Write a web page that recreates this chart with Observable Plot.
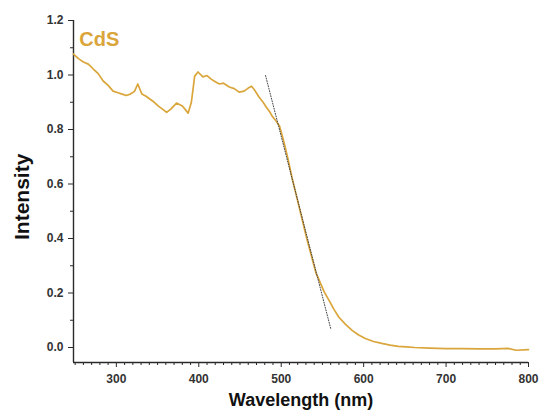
<!DOCTYPE html>
<html>
<head>
<meta charset="utf-8">
<script src="https://cdn.jsdelivr.net/npm/d3@7"></script>
<script src="https://cdn.jsdelivr.net/npm/@observablehq/plot@0.6"></script>
<style>
  html, body { margin: 0; padding: 0; background: #fff; }
  #chart svg { display: block; }
</style>
</head>
<body>
<div id="chart"></div>
<script>
// CdS absorption spectrum: wavelength (nm) and normalised intensity
const wavelength = [248,254,260,266,272,278,284,290,296,302,307,312,317,322,326,331,336,341,346,351,356,361,366,373,380,384,387,391,395,399,405,410,415,420,425,430,437,443,449,455,460,464,467,473,478,482,486,489,494,498,501,504,508,513,519,525,531,537,542,546,552,558,564,570,578,586,594,602,612,622,632,642,652,662,680,700,720,740,760,775,785,800];
const intensity = [1.077,1.06,1.048,1.04,1.022,1.005,0.978,0.962,0.941,0.935,0.93,0.925,0.93,0.94,0.967,0.93,0.922,0.911,0.9,0.886,0.875,0.863,0.875,0.897,0.886,0.872,0.86,0.9,0.996,1.011,0.993,0.998,0.985,0.975,0.967,0.97,0.956,0.95,0.937,0.941,0.952,0.959,0.948,0.919,0.9,0.882,0.865,0.849,0.83,0.812,0.78,0.745,0.695,0.625,0.55,0.475,0.4,0.332,0.275,0.247,0.205,0.173,0.14,0.111,0.085,0.063,0.046,0.033,0.022,0.015,0.009,0.004,0.002,0,-0.002,-0.004,-0.004,-0.005,-0.005,-0.003,-0.01,-0.008];

// Tangent line at the absorption edge (dotted)
const tangentX = [481, 560];
const tangentY = [0.998, 0.07];

// Axis ticks
const xTicks = [300, 400, 500, 600, 700, 800];
const xMinor = d3.range(250, 801, 10).filter(v => v % 100 !== 0);
const yTicks = [0, 0.2, 0.4, 0.6, 0.8, 1.0, 1.2];
const yMinor = [0.1, 0.3, 0.5, 0.7, 0.9, 1.1];

const seriesName = "CdS";
const xLabel = "Wavelength (nm)";
const yLabel = "Intensity";

const curve = wavelength.map((w, i) => ({w, v: intensity[i]}));
const tangent = tangentX.map((w, i) => ({w, v: tangentY[i]}));

const gold = "#DAA53A";
const ink = "#2a2a2a";

const chart = Plot.plot({
  width: 543,
  height: 418,
  marginLeft: 73,
  marginRight: 15,
  marginTop: 20,
  marginBottom: 56,
  style: {fontFamily: "Liberation Sans, Arial, sans-serif", background: "#fff", color: ink},
  x: {domain: [248, 800]},
  y: {domain: [-0.055, 1.2]},
  marks: [
    // axis lines
    Plot.ruleX([248], {y1: -0.055, y2: 1.2, stroke: ink, strokeWidth: 1.4}),
    Plot.ruleY([-0.055], {x1: 248, x2: 800, stroke: ink, strokeWidth: 1.4}),
    // major ticks with labels
    Plot.axisX(xTicks, {tickSize: 5, tickPadding: 7, fontSize: 12, fontWeight: "bold", label: null, stroke: ink, fill: "#333"}),
    Plot.axisY(yTicks, {tickSize: 5, tickPadding: 5, fontSize: 12, fontWeight: "bold", tickFormat: d3.format(".1f"), label: null, stroke: ink, fill: "#333"}),
    // minor ticks
    Plot.axisX(xMinor, {tickSize: 3, tickFormat: () => "", label: null, stroke: ink}),
    Plot.axisY(yMinor, {tickSize: 3, tickFormat: () => "", label: null, stroke: ink}),
    // spectrum
    Plot.line(curve, {x: "w", y: "v", stroke: gold, strokeWidth: 1.7, curve: "linear"}),
    // tangent at the edge
    Plot.line(tangent, {x: "w", y: "v", stroke: "#444", strokeWidth: 1, strokeDasharray: "1,1.6"}),
    // series label
    Plot.text([seriesName], {x: 255, y: 1.13, text: d => d, textAnchor: "start", fill: gold, fontSize: 20, fontWeight: "bold"}),
    // axis titles
    Plot.text([xLabel], {frameAnchor: "bottom", dy: 43, text: d => d, fontSize: 18, fontWeight: "bold", fill: "#111"}),
    Plot.text([yLabel], {x: () => 248, y: () => 0.553, dx: -51, rotate: -90, text: d => d, fontSize: 21, fontWeight: "bold", fill: "#111"})
  ]
});

document.getElementById("chart").appendChild(chart);
</script>
</body>
</html>
